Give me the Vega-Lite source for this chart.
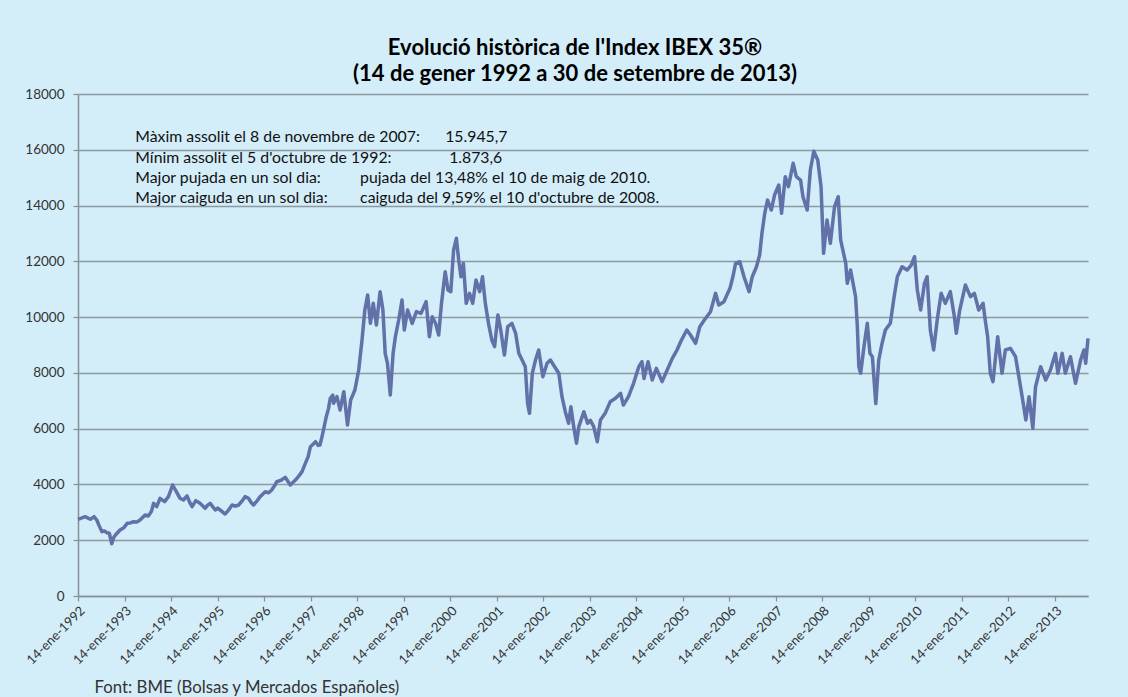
{
  "$schema": "https://vega.github.io/schema/vega-lite/v6.json",
  "width": 1010,
  "height": 502,
  "autosize": {"type": "none"},
  "padding": {"left": 78, "top": 94, "right": 40, "bottom": 101},
  "background": "#d3edf9",
  "config": {"view": {"stroke": null}, "font": "Lato"},
  "title": {
    "text": ["Evolució històrica de l'Index IBEX 35®", "(14 de gener 1992 a 30 de setembre de 2013)"],
    "font": "Lato", "fontSize": 22, "fontWeight": "bold", "color": "#000000",
    "anchor": "middle", "offset": 1, "lineHeight": 26, "dx": -8
  },
  "datasets": {
    "ibex": [
      {"d":"1992-01-14","v":2750},{"d":"1992-02-14","v":2800},{"d":"1992-03-10","v":2845},{"d":"1992-04-20","v":2750},{"d":"1992-05-19","v":2845},{"d":"1992-06-10","v":2725},{"d":"1992-06-25","v":2550},{"d":"1992-07-20","v":2306},{"d":"1992-08-08","v":2330},{"d":"1992-08-29","v":2270},{"d":"1992-09-16","v":2250},{"d":"1992-10-05","v":1874},{"d":"1992-10-20","v":2100},{"d":"1992-11-03","v":2187},{"d":"1992-12-09","v":2366},
      {"d":"1993-01-08","v":2450},{"d":"1993-02-03","v":2605},{"d":"1993-02-28","v":2620},{"d":"1993-03-25","v":2665},{"d":"1993-04-20","v":2650},{"d":"1993-05-15","v":2725},{"d":"1993-06-24","v":2904},{"d":"1993-07-19","v":2870},{"d":"1993-08-14","v":3050},{"d":"1993-08-29","v":3323},{"d":"1993-09-23","v":3204},{"d":"1993-10-19","v":3503},{"d":"1993-11-24","v":3383},{"d":"1993-12-24","v":3563},
      {"d":"1994-01-26","v":3980},{"d":"1994-02-17","v":3800},{"d":"1994-03-07","v":3650},{"d":"1994-03-25","v":3503},{"d":"1994-04-20","v":3443},{"d":"1994-05-19","v":3587},{"d":"1994-06-10","v":3350},{"d":"1994-06-28","v":3204},{"d":"1994-07-27","v":3419},{"d":"1994-08-29","v":3323},{"d":"1994-10-08","v":3144},{"d":"1994-10-26","v":3250},{"d":"1994-11-17","v":3323},{"d":"1994-12-27","v":3084},
      {"d":"1995-01-15","v":3150},{"d":"1995-02-03","v":3084},{"d":"1995-03-15","v":2940},{"d":"1995-04-13","v":3100},{"d":"1995-05-08","v":3263},{"d":"1995-06-03","v":3220},{"d":"1995-06-28","v":3263},{"d":"1995-07-24","v":3400},{"d":"1995-08-18","v":3563},{"d":"1995-09-13","v":3503},{"d":"1995-10-05","v":3350},{"d":"1995-10-23","v":3263},{"d":"1995-11-18","v":3400},{"d":"1995-12-14","v":3563},
      {"d":"1996-01-23","v":3740},{"d":"1996-02-17","v":3700},{"d":"1996-03-14","v":3800},{"d":"1996-04-05","v":3950},{"d":"1996-04-23","v":4099},{"d":"1996-05-26","v":4150},{"d":"1996-06-28","v":4255},{"d":"1996-08-07","v":3980},{"d":"1996-09-16","v":4159},{"d":"1996-10-12","v":4300},{"d":"1996-11-07","v":4458},{"d":"1996-12-03","v":4757},{"d":"1996-12-25","v":5000},
      {"d":"1997-01-12","v":5354},{"d":"1997-02-03","v":5450},{"d":"1997-02-21","v":5533},{"d":"1997-03-14","v":5400},{"d":"1997-03-28","v":5414},{"d":"1997-04-12","v":5700},{"d":"1997-04-27","v":6011},{"d":"1997-05-15","v":6400},{"d":"1997-06-03","v":6729},{"d":"1997-06-17","v":7087},{"d":"1997-07-06","v":7200},{"d":"1997-07-13","v":6910},{"d":"1997-08-08","v":7147},{"d":"1997-09-02","v":6669},{"d":"1997-10-01","v":7327},{"d":"1997-10-30","v":6131},{"d":"1997-11-24","v":7028},{"d":"1997-12-27","v":7386},
      {"d":"1998-01-26","v":8103},{"d":"1998-02-21","v":9179},{"d":"1998-03-15","v":10254},{"d":"1998-04-06","v":10793},{"d":"1998-04-28","v":9777},{"d":"1998-05-20","v":10494},{"d":"1998-06-14","v":9717},{"d":"1998-07-13","v":10912},{"d":"1998-08-04","v":10254},{"d":"1998-08-22","v":8701},{"d":"1998-09-09","v":8343},{"d":"1998-10-01","v":7207},{"d":"1998-10-23","v":8701},{"d":"1998-11-10","v":9298},{"d":"1998-12-06","v":9896},
      {"d":"1999-01-01","v":10613},{"d":"1999-01-19","v":9537},{"d":"1999-02-14","v":10254},{"d":"1999-03-22","v":9777},{"d":"1999-04-24","v":10195},{"d":"1999-05-30","v":10135},{"d":"1999-07-09","v":10553},{"d":"1999-08-04","v":9298},{"d":"1999-08-26","v":10015},{"d":"1999-09-21","v":9777},{"d":"1999-10-16","v":9358},{"d":"1999-11-07","v":10494},{"d":"1999-12-06","v":11627},{"d":"1999-12-28","v":10972},
      {"d":"2000-01-19","v":10912},{"d":"2000-02-10","v":12406},{"d":"2000-03-03","v":12825},{"d":"2000-03-21","v":12047},{"d":"2000-04-08","v":11449},{"d":"2000-04-27","v":11926},{"d":"2000-05-19","v":10494},{"d":"2000-06-14","v":10853},{"d":"2000-07-09","v":10494},{"d":"2000-08-04","v":11330},{"d":"2000-09-02","v":10912},{"d":"2000-09-24","v":11449},{"d":"2000-10-16","v":10494},{"d":"2000-11-10","v":9777},{"d":"2000-12-06","v":9179},{"d":"2000-12-28","v":8940},
      {"d":"2001-01-23","v":10075},{"d":"2001-02-14","v":9537},{"d":"2001-03-15","v":8641},{"d":"2001-04-10","v":9656},{"d":"2001-05-13","v":9777},{"d":"2001-06-11","v":9418},{"d":"2001-07-06","v":8701},{"d":"2001-08-01","v":8462},{"d":"2001-08-26","v":8222},{"d":"2001-09-13","v":6909},{"d":"2001-09-28","v":6550},{"d":"2001-10-20","v":7985},{"d":"2001-11-14","v":8462},{"d":"2001-12-09","v":8820},
      {"d":"2002-01-11","v":7865},{"d":"2002-02-13","v":8343},{"d":"2002-03-11","v":8462},{"d":"2002-04-13","v":8222},{"d":"2002-05-16","v":7985},{"d":"2002-06-10","v":7147},{"d":"2002-07-06","v":6609},{"d":"2002-08-01","v":6192},{"d":"2002-08-19","v":6789},{"d":"2002-09-10","v":6072},{"d":"2002-10-02","v":5475},{"d":"2002-10-20","v":6072},{"d":"2002-11-29","v":6609},{"d":"2002-12-28","v":6192},
      {"d":"2003-01-19","v":6300},{"d":"2003-02-14","v":6072},{"d":"2003-03-14","v":5533},{"d":"2003-04-08","v":6310},{"d":"2003-05-15","v":6550},{"d":"2003-06-24","v":6968},{"d":"2003-08-04","v":7087},{"d":"2003-09-13","v":7267},{"d":"2003-10-05","v":6848},{"d":"2003-11-14","v":7147},{"d":"2003-12-24","v":7626},
      {"d":"2004-02-03","v":8222},{"d":"2004-02-28","v":8401},{"d":"2004-03-15","v":7800},{"d":"2004-04-16","v":8401},{"d":"2004-05-19","v":7745},{"d":"2004-06-20","v":8163},{"d":"2004-08-04","v":7685},{"d":"2004-09-13","v":8103},{"d":"2004-10-23","v":8522},{"d":"2004-11-29","v":8820},{"d":"2004-12-28","v":9119},
      {"d":"2005-02-14","v":9537},{"d":"2005-03-15","v":9358},{"d":"2005-04-24","v":9060},{"d":"2005-05-27","v":9656},{"d":"2005-07-02","v":9896},{"d":"2005-08-19","v":10195},{"d":"2005-09-28","v":10853},{"d":"2005-10-23","v":10434},{"d":"2005-12-02","v":10553},
      {"d":"2006-01-19","v":11032},{"d":"2006-02-14","v":11509},{"d":"2006-03-04","v":11926},{"d":"2006-04-06","v":11986},{"d":"2006-05-09","v":11449},{"d":"2006-06-18","v":10912},{"d":"2006-07-13","v":11449},{"d":"2006-08-15","v":11807},{"d":"2006-09-09","v":12226},{"d":"2006-09-27","v":13003},{"d":"2006-10-19","v":13721},{"d":"2006-11-10","v":14199},{"d":"2006-12-09","v":13840},
      {"d":"2007-01-04","v":14378},{"d":"2007-02-06","v":14737},{"d":"2007-02-28","v":13721},{"d":"2007-03-29","v":15036},{"d":"2007-04-23","v":14677},{"d":"2007-05-30","v":15514},{"d":"2007-06-24","v":15036},{"d":"2007-07-27","v":14916},{"d":"2007-08-15","v":14318},{"d":"2007-09-17","v":13840},{"d":"2007-10-12","v":15275},{"d":"2007-11-08","v":15946},{"d":"2007-12-09","v":15633},
      {"d":"2008-01-04","v":14677},{"d":"2008-01-24","v":12287},{"d":"2008-02-20","v":13482},{"d":"2008-03-17","v":12645},{"d":"2008-04-19","v":13960},{"d":"2008-05-18","v":14318},{"d":"2008-06-06","v":12765},{"d":"2008-07-16","v":11926},{"d":"2008-07-28","v":11211},{"d":"2008-08-23","v":11688},{"d":"2008-10-01","v":10733},{"d":"2008-10-15","v":9656},{"d":"2008-10-27","v":8222},{"d":"2008-11-10","v":7985},{"d":"2008-12-06","v":8940},
      {"d":"2009-01-01","v":9777},{"d":"2009-01-22","v":8701},{"d":"2009-02-10","v":8581},{"d":"2009-03-09","v":6900},{"d":"2009-04-01","v":8462},{"d":"2009-04-27","v":9060},{"d":"2009-05-23","v":9537},{"d":"2009-07-01","v":9777},{"d":"2009-07-27","v":10613},{"d":"2009-08-25","v":11449},{"d":"2009-10-01","v":11807},{"d":"2009-11-10","v":11688},{"d":"2009-12-12","v":11867},
      {"d":"2010-01-07","v":12166},{"d":"2010-01-29","v":10972},{"d":"2010-02-24","v":10254},{"d":"2010-03-26","v":11211},{"d":"2010-04-16","v":11449},{"d":"2010-05-11","v":9537},{"d":"2010-06-06","v":8820},{"d":"2010-07-04","v":9896},{"d":"2010-08-04","v":10853},{"d":"2010-09-06","v":10494},{"d":"2010-10-15","v":10912},{"d":"2010-11-16","v":10015},{"d":"2010-12-01","v":9418},{"d":"2010-12-28","v":10254},
      {"d":"2011-02-10","v":11150},{"d":"2011-03-22","v":10733},{"d":"2011-04-22","v":10853},{"d":"2011-05-26","v":10254},{"d":"2011-06-29","v":10494},{"d":"2011-07-16","v":9896},{"d":"2011-08-04","v":9298},{"d":"2011-08-25","v":7985},{"d":"2011-09-15","v":7685},{"d":"2011-10-22","v":9298},{"d":"2011-11-25","v":7985},{"d":"2011-12-21","v":8820},
      {"d":"2012-01-30","v":8880},{"d":"2012-03-10","v":8581},{"d":"2012-04-05","v":7865},{"d":"2012-05-01","v":7147},{"d":"2012-05-30","v":6310},{"d":"2012-06-24","v":7147},{"d":"2012-07-24","v":6012},{"d":"2012-08-14","v":7505},{"d":"2012-09-23","v":8222},{"d":"2012-11-02","v":7745},{"d":"2012-12-09","v":8103},
      {"d":"2013-01-18","v":8701},{"d":"2013-02-05","v":7985},{"d":"2013-03-11","v":8701},{"d":"2013-04-05","v":7985},{"d":"2013-05-15","v":8581},{"d":"2013-06-24","v":7626},{"d":"2013-08-03","v":8462},{"d":"2013-08-29","v":8820},{"d":"2013-09-12","v":8343},{"d":"2013-09-30","v":9239}
    ],
    "notes": [
      {"t":"Màxim assolit el 8 de novembre de 2007:","d":"1993-04-08","v":16457},
      {"t":"15.945,7","d":"1999-12-06","v":16457},
      {"t":"Mínim assolit el 5 d'octubre de 1992:","d":"1993-04-08","v":15705},
      {"t":"1.873,6","d":"2000-01-06","v":15705},
      {"t":"Major pujada en un sol dia:","d":"1993-04-08","v":14987},
      {"t":"pujada del 13,48% el 10 de maig de 2010.","d":"1998-02-06","v":14987},
      {"t":"Major caiguda en un sol dia:","d":"1993-04-08","v":14270},
      {"t":"caiguda del 9,59% el 10 d'octubre de 2008.","d":"1998-02-06","v":14270}
    ]
  },
  "layer": [
    {
      "data": {"name": "ibex"},
      "mark": {"type": "line", "color": "#6271a8", "strokeWidth": 3.5, "strokeJoin": "round"},
      "encoding": {
        "x": {
          "field": "d", "type": "temporal",
          "scale": {"domain": [{"year": 1992, "month": 1, "date": 14}, {"year": 2013, "month": 9, "date": 30}], "nice": false},
          "axis": {
            "values": [
              {"year":1992,"month":1,"date":14},{"year":1993,"month":1,"date":14},{"year":1994,"month":1,"date":14},{"year":1995,"month":1,"date":14},{"year":1996,"month":1,"date":14},{"year":1997,"month":1,"date":14},{"year":1998,"month":1,"date":14},{"year":1999,"month":1,"date":14},{"year":2000,"month":1,"date":14},{"year":2001,"month":1,"date":14},{"year":2002,"month":1,"date":14},{"year":2003,"month":1,"date":14},{"year":2004,"month":1,"date":14},{"year":2005,"month":1,"date":14},{"year":2006,"month":1,"date":14},{"year":2007,"month":1,"date":14},{"year":2008,"month":1,"date":14},{"year":2009,"month":1,"date":14},{"year":2010,"month":1,"date":14},{"year":2011,"month":1,"date":14},{"year":2012,"month":1,"date":14},{"year":2013,"month":1,"date":14}
            ],
            "labelExpr": "'14-ene-' + timeFormat(datum.value, '%Y')",
            "labelAngle": -45, "labelAlign": "right", "labelBaseline": "top",
            "labelFont": "Lato", "labelFontSize": 13, "labelColor": "#333333", "labelPadding": 3,
            "labelOverlap": false, "labelFlush": false,
            "grid": false, "domainColor": "#868f94", "domainWidth": 1.5,
            "tickColor": "#868f94", "tickSize": 5, "tickWidth": 1.2,
            "title": "Font: BME (Bolsas y Mercados Españoles)",
            "titleFont": "Lato", "titleFontSize": 16.8, "titleFontWeight": "normal", "titleColor": "#333333",
            "titleAnchor": "start", "titleAlign": "left", "titleBaseline": "middle", "titleX": 16, "titleY": 91
          }
        },
        "y": {
          "field": "v", "type": "quantitative",
          "scale": {"domain": [0, 18000], "nice": false},
          "axis": {
            "values": [0, 2000, 4000, 6000, 8000, 10000, 12000, 14000, 16000, 18000],
            "format": "d", "title": null,
            "labelFont": "Lato", "labelFontSize": 13.5, "labelColor": "#333333", "labelPadding": 9,
            "grid": true, "gridColor": "#8c9ba2", "gridWidth": 1.6,
            "domainColor": "#868f94", "domainWidth": 1.5,
            "tickColor": "#868f94", "tickSize": 5, "tickWidth": 1.2
          }
        }
      }
    },
    {
      "mark": {"type": "rect", "fill": "#d3edf9"},
      "encoding": {
        "x": {"datum": {"year": 1993, "month": 1, "date": 4}, "type": "temporal"},
        "x2": {"datum": {"year": 2005, "month": 1, "date": 4}},
        "y": {"datum": 13700, "type": "quantitative"},
        "y2": {"datum": 17700}
      }
    },
    {
      "data": {"name": "notes"},
      "mark": {"type": "text", "align": "left", "baseline": "middle", "font": "Lato", "fontSize": 15.8, "color": "#111111"},
      "encoding": {
        "x": {"field": "d", "type": "temporal"},
        "y": {"field": "v", "type": "quantitative"},
        "text": {"field": "t"}
      }
    }
  ]
}
